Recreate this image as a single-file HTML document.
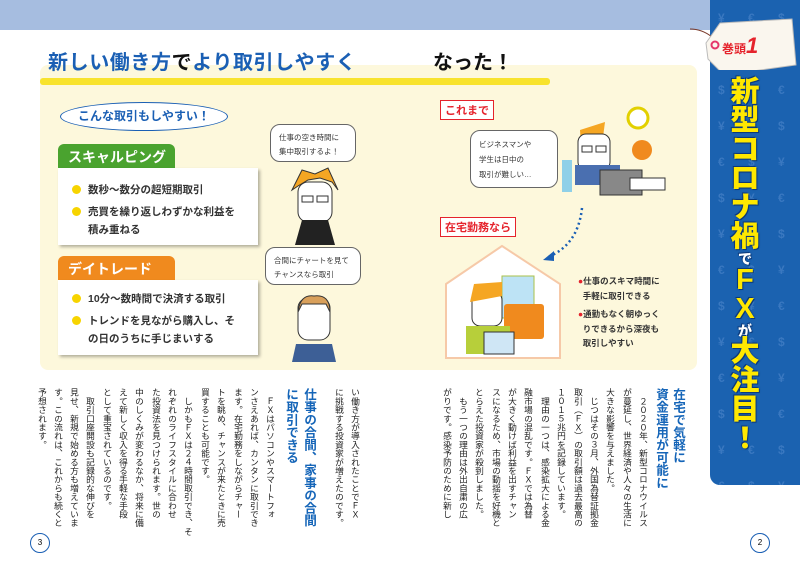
<!DOCTYPE html>
<html><head><meta charset="utf-8"><style>
*{margin:0;padding:0;box-sizing:border-box}
body{width:800px;height:568px;position:relative;overflow:hidden;background:#fff;font-family:"Liberation Sans","Noto Sans CJK JP",sans-serif}
.a{position:absolute}
.col{position:absolute;top:388px;writing-mode:vertical-rl;font-size:8.7px;line-height:10px;width:10px;color:#222;white-space:nowrap;font-family:"Liberation Sans","Noto Sans CJK JP",sans-serif}
.hd{position:absolute;top:388px;writing-mode:vertical-rl;font-size:12.6px;line-height:15px;width:15px;color:#1565b8;font-weight:bold;white-space:nowrap}
.card{position:absolute;background:#fff;box-shadow:2px 2px 3px rgba(0,0,0,.3);font-size:10.5px;font-weight:bold;color:#333;line-height:18px}
.card div{position:relative;padding-left:16px}
.card div:before{content:"";position:absolute;left:0;top:4px;width:9px;height:9px;border-radius:50%;background:#f7d400}
.tab{position:absolute;color:#fff;font-weight:bold;font-size:14px;border-radius:6px 6px 0 0;padding:3px 0 0 10px}
.bub{position:absolute;background:#fff;border:1.3px solid #666;border-radius:10px;font-size:7.5px;line-height:14px;color:#333;padding:6px 8px}
.rb{position:absolute;border:1.5px solid #e5232c;background:#fff;color:#e5232c;font-weight:bold;font-size:11px;padding:1px 4px}
</style></head><body>
<div class="a" style="left:0;top:0;width:710px;height:30px;background:#a6bde0"></div>
<div class="a" style="left:40px;top:65px;width:657px;height:305px;background:#fdf8dc;border-radius:8px"></div>
<div class="a" style="left:40px;top:78px;width:510px;height:7px;background:#f7e01a;border-radius:3px;opacity:.9"></div>
<div class="a" style="left:48px;top:46px;font-size:20px;font-weight:bold;color:#1a5fb4;letter-spacing:0.6px">新しい働き方<span style="color:#111">で</span>より取引しやすく</div>
<div class="a" style="left:433px;top:46px;font-size:20px;font-weight:bold;color:#111">なった！</div>

<div class="a" style="left:60px;top:102px;width:168px;height:29px;border:1.5px solid #1a5fb4;border-radius:50%;background:#fff;text-align:center;font-size:12px;font-weight:bold;color:#1a5fb4;line-height:26px">こんな取引もしやすい！</div>
<div class="tab" style="left:58px;top:144px;width:117px;height:24px;background:#4aa32f">スキャルピング</div>
<div class="card" style="left:58px;top:168px;width:200px;height:77px;padding:13px 0 0 14px"><div>数秒～数分の超短期取引</div><div style="margin-top:4px">売買を繰り返しわずかな利益を<br>積み重ねる</div></div>
<div class="tab" style="left:58px;top:256px;width:117px;height:24px;background:#f08a1e">デイトレード</div>
<div class="card" style="left:58px;top:280px;width:200px;height:75px;padding:10px 0 0 14px"><div>10分～数時間で決済する取引</div><div style="margin-top:4px">トレンドを見ながら購入し、そ<br>の日のうちに手じまいする</div></div>

<div class="bub" style="left:270px;top:124px;width:86px;height:38px">仕事の空き時間に<br>集中取引するよ！</div>
<svg class="a" style="left:280px;top:160px" width="70" height="85">
<polygon points="12,30 22,10 35,14 48,8 58,30 52,22 40,18 28,20 18,26" fill="#f5a623" stroke="#333"/>
<rect x="18" y="22" width="34" height="40" rx="10" fill="#fff" stroke="#333"/>
<rect x="22" y="36" width="11" height="6" fill="none" stroke="#333"/><rect x="37" y="36" width="11" height="6" fill="none" stroke="#333"/>
<polygon points="22,60 48,60 55,85 15,85" fill="#222"/>
</svg>
<div class="bub" style="left:265px;top:247px;width:96px;height:38px">合間にチャートを見て<br>チャンスなら取引</div>
<svg class="a" style="left:290px;top:292px" width="50" height="70">
<rect x="8" y="6" width="32" height="42" rx="10" fill="#fff" stroke="#333"/>
<path d="M8,20 Q10,2 24,4 Q40,2 40,20 L36,12 L12,12Z" fill="#d9a05b" stroke="#333"/>
<polygon points="6,52 42,52 46,70 2,70" fill="#3d5f96"/>
</svg>

<div class="rb" style="left:440px;top:100px">これまで</div>
<div class="bub" style="left:470px;top:130px;width:88px;height:58px;line-height:15px">ビジネスマンや<br>学生は日中の<br>取引が難しい…</div>
<svg class="a" style="left:560px;top:100px" width="110" height="100">
<circle cx="78" cy="18" r="10" fill="#fff" stroke="#e2d000" stroke-width="3"/>
<rect x="2" y="60" width="10" height="32" fill="#8fd0e8"/>
<path d="M20,30 L45,22 L40,60 L22,60Z" fill="#f5a623"/>
<rect x="18" y="34" width="32" height="36" rx="8" fill="#fff" stroke="#333"/>
<rect x="22" y="46" width="10" height="6" fill="none" stroke="#333"/><rect x="36" y="46" width="10" height="6" fill="none" stroke="#333"/>
<circle cx="82" cy="50" r="10" fill="#f08a1e"/>
<rect x="15" y="65" width="45" height="20" fill="#4a6fb0"/>
<rect x="40" y="70" width="42" height="25" fill="#888" stroke="#333"/>
<rect x="70" y="78" width="35" height="12" fill="#fff" stroke="#333"/>
</svg>
<svg class="a" style="left:540px;top:205px" width="50" height="58"><path d="M42,3 Q38,40 8,52" stroke="#1a5fb4" stroke-width="2.5" stroke-dasharray="2,3" fill="none"/><polygon points="3,55 14,46 14,56" fill="#1a5fb4"/></svg>
<div class="rb" style="left:440px;top:217px">在宅勤務なら</div>
<svg class="a" style="left:444px;top:244px" width="120" height="115">
<polygon points="2,40 58,2 116,40 116,114 2,114" fill="#fff" stroke="#f6c9a8" stroke-width="2"/>
<rect x="58" y="32" width="32" height="42" fill="#bde3f5" stroke="#aac04a"/>
<rect x="60" y="60" width="40" height="35" fill="#f08a1e" rx="3"/>
<rect x="28" y="48" width="30" height="34" rx="8" fill="#fff" stroke="#333"/>
<path d="M26,58 L30,40 L58,38 L58,52Z" fill="#f5a623"/>
<rect x="22" y="82" width="44" height="28" fill="#b7cf3a"/>
<rect x="40" y="88" width="30" height="22" fill="#cfe6f5" stroke="#333"/>
</svg>
<div class="a" style="left:578px;top:274px;font-size:8.5px;font-weight:bold;color:#333;line-height:14.5px">
<div><span style="color:#e5232c">●</span>仕事のスキマ時間に<br>&nbsp;&nbsp;手軽に取引できる</div>
<div style="margin-top:4px"><span style="color:#e5232c">●</span>通勤もなく朝ゆっく<br>&nbsp;&nbsp;りできるから深夜も<br>&nbsp;&nbsp;取引しやすい</div></div>

<!-- left page columns -->
<div class="col" style="left:350px">い働き方が導入されたことでＦＸ</div>
<div class="col" style="left:334px">に挑戦する投資家が増えたのです。</div>
<div class="hd" style="left:301px">仕事の合間、家事の合間</div>
<div class="hd" style="left:283px">に取引できる</div>
<div class="col" style="left:265px">　ＦＸはパソコンやスマートフォ</div>
<div class="col" style="left:249px">ンさえあれば、カンタンに取引でき</div>
<div class="col" style="left:233px">ます。在宅勤務をしながらチャー</div>
<div class="col" style="left:216px">トを眺め、チャンスが来たときに売</div>
<div class="col" style="left:200px">買することも可能です。</div>
<div class="col" style="left:183px">　しかもＦＸは２４時間取引でき、そ</div>
<div class="col" style="left:167px">れぞれのライフスタイルに合わせ</div>
<div class="col" style="left:151px">た投資法を見つけられます。世の</div>
<div class="col" style="left:134px">中のしくみが変わるなか、将来に備</div>
<div class="col" style="left:118px">えて新しく収入を得る手軽な手段</div>
<div class="col" style="left:102px">として重宝されているのです。</div>
<div class="col" style="left:85px">　取引口座開設も記録的な伸びを</div>
<div class="col" style="left:69px">見せ、新規で始める方も増えていま</div>
<div class="col" style="left:53px">す。この流れは、これからも続くと</div>
<div class="col" style="left:37px">予想されます。</div>
<!-- right page -->
<div class="hd" style="left:670px">在宅で気軽に</div>
<div class="hd" style="left:653px">資金運用が可能に</div>
<div class="col" style="left:638px">　２０２０年、新型コロナウイルス</div>
<div class="col" style="left:622px">が蔓延し、世界経済や人々の生活に</div>
<div class="col" style="left:605px">大きな影響を与えました。</div>
<div class="col" style="left:589px">　じつはその３月、外国為替証拠金</div>
<div class="col" style="left:573px">取引（ＦＸ）の取引額は過去最高の</div>
<div class="col" style="left:556px">１０１５兆円を記録しています。</div>
<div class="col" style="left:540px">　理由の一つは、感染拡大による金</div>
<div class="col" style="left:523px">融市場の混乱です。ＦＸでは為替</div>
<div class="col" style="left:507px">が大きく動けば利益を出すチャン</div>
<div class="col" style="left:491px">スになるため、市場の動揺を好機と</div>
<div class="col" style="left:474px">とらえた投資家が殺到しました。</div>
<div class="col" style="left:458px">　もう一つの理由は外出自粛の広</div>
<div class="col" style="left:442px">がりです。感染予防のために新し</div>

<div class="a" style="left:30px;top:533px;width:20px;height:20px;border:1.5px solid #1a5fb4;border-radius:50%;font-size:8px;text-align:center;line-height:17px">3</div>
<div class="a" style="left:750px;top:533px;width:20px;height:20px;border:1.5px solid #1a5fb4;border-radius:50%;font-size:8px;text-align:center;line-height:17px">2</div>

<!-- blue panel -->
<div class="a" style="left:710px;top:0;width:90px;height:485px;background:#1b62b0;border-radius:0 0 0 10px;overflow:hidden;color:#3a78c0;font-size:12px;font-weight:bold;line-height:36px;padding-left:8px;letter-spacing:10px">¥ € $<br>€ $ ¥<br>$ ¥ €<br>¥ € $<br>€ $ ¥<br>$ ¥ €<br>¥ € $<br>€ $ ¥<br>$ ¥ €<br>¥ € $<br>€ $ ¥<br>$ ¥ €<br>¥ € $<br>€ $ ¥</div>
<svg class="a" style="left:690px;top:15px" width="110" height="55"><path d="M0,14 Q12,14 22,22" stroke="#7a3a2a" fill="none"/><polygon points="16,28 30,8 102,4 106,50 34,60 18,44" fill="#faf6ee" stroke="#bbb"/><circle cx="25" cy="30" r="3.5" fill="none" stroke="#e5366b" stroke-width="2"/></svg>
<div class="a" style="left:722px;top:33px;font-size:12px;font-weight:bold;color:#e5232c">巻頭<span style="font-size:22px;font-style:italic">1</span></div>
<div class="a" style="left:722px;top:78px;width:46px;text-align:center;color:#ffe800;font-weight:900;line-height:1;text-shadow:0 0 2px #0c3a7a,1px 1px 0 #0c3a7a,-1px -1px 0 #0c3a7a">
<div style="font-size:29px">新</div><div style="font-size:29px">型</div><div style="font-size:29px">コ</div><div style="font-size:29px">ロ</div><div style="font-size:29px">ナ</div><div style="font-size:29px">禍</div><div style="font-size:14px;color:#fff">で</div><div style="font-size:29px">F</div><div style="font-size:29px">X</div><div style="font-size:14px;color:#fff">が</div><div style="font-size:29px">大</div><div style="font-size:29px">注</div><div style="font-size:29px">目</div><div style="font-size:29px">！</div></div>
</body></html>
